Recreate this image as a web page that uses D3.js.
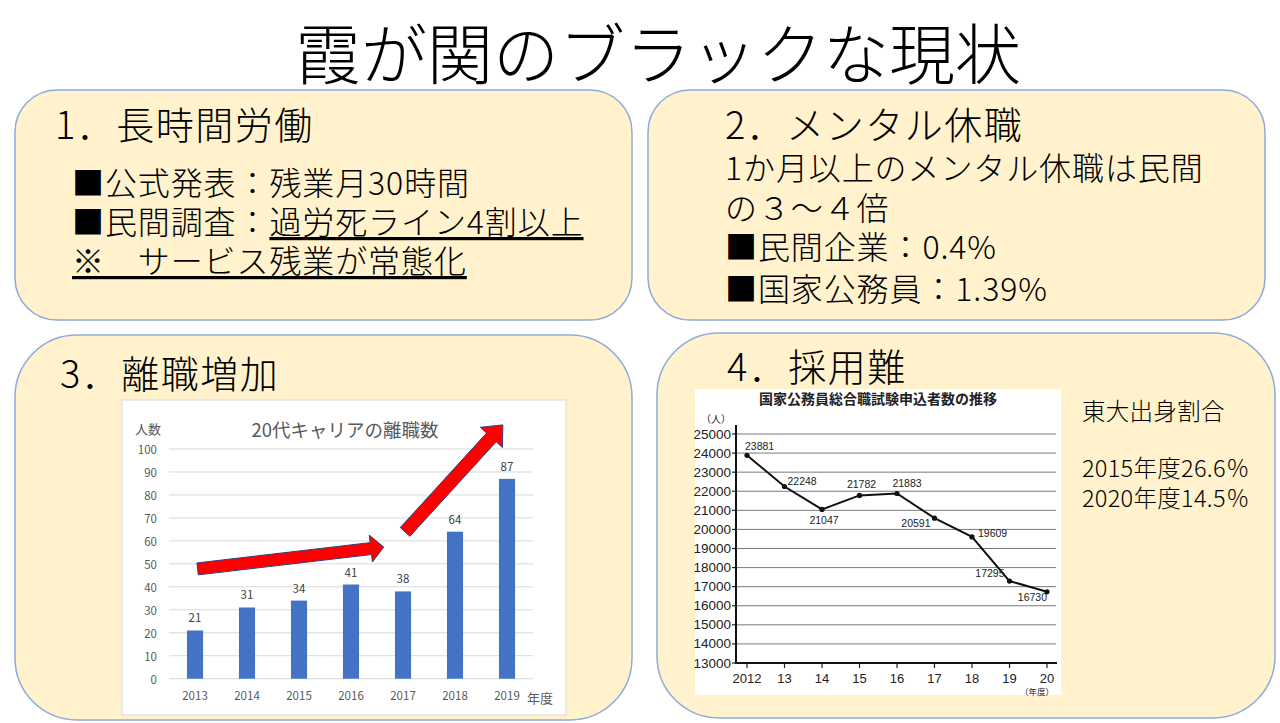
<!DOCTYPE html>
<html><head><meta charset="utf-8">
<script src="https://cdn.jsdelivr.net/npm/d3@7"></script>
<style>
html,body{margin:0;padding:0;background:#fff;}
svg{display:block;}
.jp{font-family:"Noto Sans CJK JP","Noto Sans",sans-serif;}
</style></head>
<body>
<svg id="c" width="1280" height="723"></svg>
<script>
// ---------- data ----------
const pageTitle = "霞が関のブラックな現状";
const box1Title = "1．長時間労働";
const box1Lines = [
  [{t:"■公式発表：残業月30時間"}],
  [{t:"■民間調査："},{t:"過労死ライン4割以上",u:true}],
  [{t:"※　サービス残業が常態化",u:true}]
];
const box2Title = "2．メンタル休職";
const box2Lines = ["1か月以上のメンタル休職は民間","の３～４倍","■民間企業：0.4%","■国家公務員：1.39%"];
const box3Title = "3．離職増加";
const box4Title = "4．採用難";
const box4Side = ["東大出身割合","","2015年度26.6％","2020年度14.5％"];

const barTitle = "20代キャリアの離職数";
const barYears = ["2013","2014","2015","2016","2017","2018","2019"];
const barValues = [21,31,34,41,38,64,87];
const barTicks = [0,10,20,30,40,50,60,70,80,90,100];
// arrows as [index, value] of tail and tip
const arrowPaths = [
  {tail:[0.05,47.8], tip:[3.63,57.3]},
  {tail:[4.04,63.9], tip:[5.92,110.5]}
];

const lineTitle = "国家公務員総合職試験申込者数の推移";
const lineYears = ["2012","13","14","15","16","17","18","19","20"];
const lineValues = [23881,22248,21047,21782,21883,20591,19609,17295,16730];
const lineTicks = [13000,14000,15000,16000,17000,18000,19000,20000,21000,22000,23000,24000,25000];
// label placement per point (style only)
const lineLabelPos = [
  {a:"start",dx:-2,dy:-9},{a:"start",dx:3,dy:-6},{a:"middle",dx:2,dy:11},
  {a:"middle",dx:2,dy:-11},{a:"middle",dx:10,dy:-10},{a:"end",dx:-4,dy:5},
  {a:"start",dx:6,dy:-4},{a:"end",dx:-5,dy:-8},{a:"end",dx:0,dy:5}
];

// ---------- drawing ----------
const svg = d3.select("#c");
svg.append("rect").attr("width",1280).attr("height",723).attr("fill","#fff");

svg.append("text").attr("class","jp").attr("x",658).attr("y",50)
  .attr("text-anchor","middle").attr("dominant-baseline","central")
  .attr("font-size",66).attr("font-weight",300).attr("fill","#000").text(pageTitle);

const boxes = [
  {x:15,y:90,w:617,h:230,r:42},
  {x:648,y:90,w:617,h:230,r:42},
  {x:15,y:335,w:617,h:385,r:62},
  {x:657,y:333,w:618,h:385,r:62}
];
svg.selectAll("rect.box").data(boxes).join("rect").attr("class","box")
  .attr("x",d=>d.x).attr("y",d=>d.y).attr("width",d=>d.w).attr("height",d=>d.h)
  .attr("rx",d=>d.r).attr("ry",d=>d.r)
  .attr("fill","#FFF2CC").attr("stroke","#8FAADC").attr("stroke-width",1.5);

function txt(x,y,s,size,opts={}){
  return svg.append("text").attr("class","jp").attr("x",x).attr("y",y)
    .attr("dominant-baseline","central").attr("font-size",size)
    .attr("font-weight",opts.w||300).attr("fill",opts.fill||"#000")
    .attr("letter-spacing",opts.ls||0)
    .attr("text-anchor",opts.anchor||"start").text(s);
}
// box 1
txt(55,122,box1Title,38,{ls:1.5});
box1Lines.forEach((line,i)=>{
  const t = svg.append("text").attr("class","jp").attr("x",72).attr("y",181+i*39)
    .attr("dominant-baseline","central").attr("font-size",32).attr("font-weight",300)
    .attr("letter-spacing",0.9);
  line.forEach(seg=>{
    const ts = t.append("tspan").text(seg.t);
    if(seg.u) ts.attr("text-decoration","underline");
  });
});
// box 2
txt(725,122,box2Title,38,{ls:1.5});
box2Lines.forEach((s,i)=>txt(725,166+i*40 + (i>=2? -1:0) + (i==3?2:0),s,32,{ls:0.9}));
// box 3
txt(60,371,box3Title,38,{ls:1.5});
// box 4
txt(727,364,box4Title,38,{ls:1.5});
const sideY=[410,0,467,497];
box4Side.forEach((s,i)=>{ if(s) txt(1082,sideY[i],s,23.5,{ls:0.3}); });

// ---------- bar chart ----------
const bc = svg.append("g");
bc.append("rect").attr("x",122).attr("y",400).attr("width",444).attr("height",315)
  .attr("fill","#fff").attr("stroke","#d9d9d9");
const bx = d3.scaleBand().domain(barYears).range([169,533]).paddingInner(0.69).paddingOuter(0.345);
const by = d3.scaleLinear().domain([0,100]).range([678.7,449]);
const bStep = bx.step();
const bCenter = i => bx(barYears[0]) + bx.bandwidth()/2 + i*bStep;
bc.selectAll("line.g").data(barTicks).join("line")
  .attr("x1",169).attr("x2",533).attr("y1",d=>by(d)).attr("y2",d=>by(d))
  .attr("stroke","#d9d9d9").attr("stroke-width",1);
bc.selectAll("text.yt").data(barTicks).join("text").attr("class","jp")
  .attr("x",157).attr("y",d=>by(d)).attr("text-anchor","end").attr("dominant-baseline","central")
  .attr("font-size",11.5).attr("fill","#595959").text(d=>d);
bc.selectAll("rect.bar").data(barValues).join("rect")
  .attr("x",(d,i)=>bx(barYears[i])).attr("width",bx.bandwidth())
  .attr("y",d=>by(d)).attr("height",d=>by(0)-by(d)).attr("fill","#4472C4");
bc.selectAll("text.v").data(barValues).join("text").attr("class","jp")
  .attr("x",(d,i)=>bCenter(i)).attr("y",d=>by(d)-13).attr("text-anchor","middle")
  .attr("dominant-baseline","central").attr("font-size",11.5).attr("fill","#404040").text(d=>d);
bc.selectAll("text.xl").data(barYears).join("text").attr("class","jp")
  .attr("x",d=>bx(d)+bx.bandwidth()/2).attr("y",695).attr("text-anchor","middle")
  .attr("dominant-baseline","central").attr("font-size",11.5).attr("fill","#595959").text(d=>d);
bc.append("text").attr("class","jp").attr("x",345).attr("y",429).attr("text-anchor","middle")
  .attr("dominant-baseline","central").attr("font-size",18.5).attr("fill","#595959").text(barTitle);
bc.append("text").attr("class","jp").attr("x",135).attr("y",428)
  .attr("dominant-baseline","central").attr("font-size",13).attr("fill","#595959").text("人数");
bc.append("text").attr("class","jp").attr("x",527).attr("y",697)
  .attr("dominant-baseline","central").attr("font-size",13).attr("fill","#595959").text("年度");

function arrowPoly(a,shaft,headW,headL){
  const x0=bCenter(a.tail[0]), y0=by(a.tail[1]), x1=bCenter(a.tip[0]), y1=by(a.tip[1]);
  const dx=x1-x0, dy=y1-y0, L=Math.hypot(dx,dy), ux=dx/L, uy=dy/L, nx=-uy, ny=ux;
  const bxp=x1-ux*headL, byp=y1-uy*headL;
  const pts=[
    [x0+nx*shaft/2,y0+ny*shaft/2],[bxp+nx*shaft/2,byp+ny*shaft/2],[bxp+nx*headW/2,byp+ny*headW/2],
    [x1,y1],[bxp-nx*headW/2,byp-ny*headW/2],[bxp-nx*shaft/2,byp-ny*shaft/2],[x0-nx*shaft/2,y0-ny*shaft/2]
  ];
  return pts.map(p=>p.join(",")).join(" ");
}
const arrowStyle=[{s:12,w:27,l:13},{s:13,w:30,l:17}];
bc.selectAll("polygon.arr").data(arrowPaths).join("polygon")
  .attr("points",(d,i)=>arrowPoly(d,arrowStyle[i].s,arrowStyle[i].w,arrowStyle[i].l))
  .attr("fill","#FF0000").attr("stroke","#2F3F7F").attr("stroke-width",1);

// ---------- line chart ----------
const lc = svg.append("g");
const lf = "'Liberation Sans','Noto Sans CJK JP',sans-serif";
lc.append("rect").attr("x",695).attr("y",389).attr("width",366).attr("height",306).attr("fill","#fff");
const lx = d3.scalePoint().domain(lineYears).range([747,1047]);
const ly = d3.scaleLinear().domain([13000,25000]).range([663,434]);
lc.selectAll("line.g").data(lineTicks.filter(d=>d>13000)).join("line")
  .attr("x1",736).attr("x2",1056).attr("y1",d=>ly(d)).attr("y2",d=>ly(d))
  .attr("stroke","#7a7a7a").attr("stroke-width",1);
lc.selectAll("line.tk").data(lineTicks).join("line")
  .attr("x1",732).attr("x2",736).attr("y1",d=>ly(d)).attr("y2",d=>ly(d))
  .attr("stroke","#222").attr("stroke-width",1.2);
lc.selectAll("text.yt").data(lineTicks).join("text")
  .attr("x",731).attr("y",d=>ly(d)).attr("text-anchor","end").attr("dominant-baseline","central")
  .style("font-family",lf).attr("font-size",13.5).attr("fill","#222").text(d=>d);
lc.append("line").attr("x1",736).attr("x2",736).attr("y1",425).attr("y2",664)
  .attr("stroke","#111").attr("stroke-width",2);
lc.append("line").attr("x1",735).attr("x2",1057).attr("y1",663).attr("y2",663)
  .attr("stroke","#111").attr("stroke-width",2);
lc.selectAll("line.xt").data(lineYears).join("line")
  .attr("x1",d=>lx(d)).attr("x2",d=>lx(d)).attr("y1",663).attr("y2",668)
  .attr("stroke","#222").attr("stroke-width",1.2);
lc.selectAll("text.xl").data(lineYears).join("text")
  .attr("x",d=>lx(d)).attr("y",678).attr("text-anchor","middle").attr("dominant-baseline","central")
  .style("font-family",lf).attr("font-size",13).attr("fill","#222").text(d=>d);
lc.append("path").datum(lineValues)
  .attr("d",d3.line().x((d,i)=>lx(lineYears[i])).y(d=>ly(d)))
  .attr("fill","none").attr("stroke","#111").attr("stroke-width",2);
lc.selectAll("circle").data(lineValues).join("circle")
  .attr("cx",(d,i)=>lx(lineYears[i])).attr("cy",d=>ly(d)).attr("r",2.6).attr("fill","#111");
lc.selectAll("text.dl").data(lineValues).join("text")
  .attr("x",(d,i)=>lx(lineYears[i])+lineLabelPos[i].dx).attr("y",(d,i)=>ly(d)+lineLabelPos[i].dy)
  .attr("text-anchor",(d,i)=>lineLabelPos[i].a).attr("dominant-baseline","central")
  .style("font-family",lf).attr("font-size",10.5).attr("fill","#222").text(d=>d);
lc.append("text").attr("x",878).attr("y",398).attr("text-anchor","middle").attr("dominant-baseline","central")
  .style("font-family","'Noto Sans CJK JP',sans-serif").attr("font-weight",700).attr("font-size",14).attr("fill","#222").text(lineTitle);
lc.append("text").attr("x",716).attr("y",418).attr("text-anchor","middle").attr("dominant-baseline","central")
  .style("font-family","'Noto Sans CJK JP',sans-serif").attr("font-size",10).attr("fill","#222").text("（人）");
lc.append("text").attr("x",1037).attr("y",690.5).attr("text-anchor","middle").attr("dominant-baseline","central")
  .style("font-family","'Noto Sans CJK JP',sans-serif").attr("font-size",8.5).attr("fill","#222").text("（年度）");
</script>
</body></html>
